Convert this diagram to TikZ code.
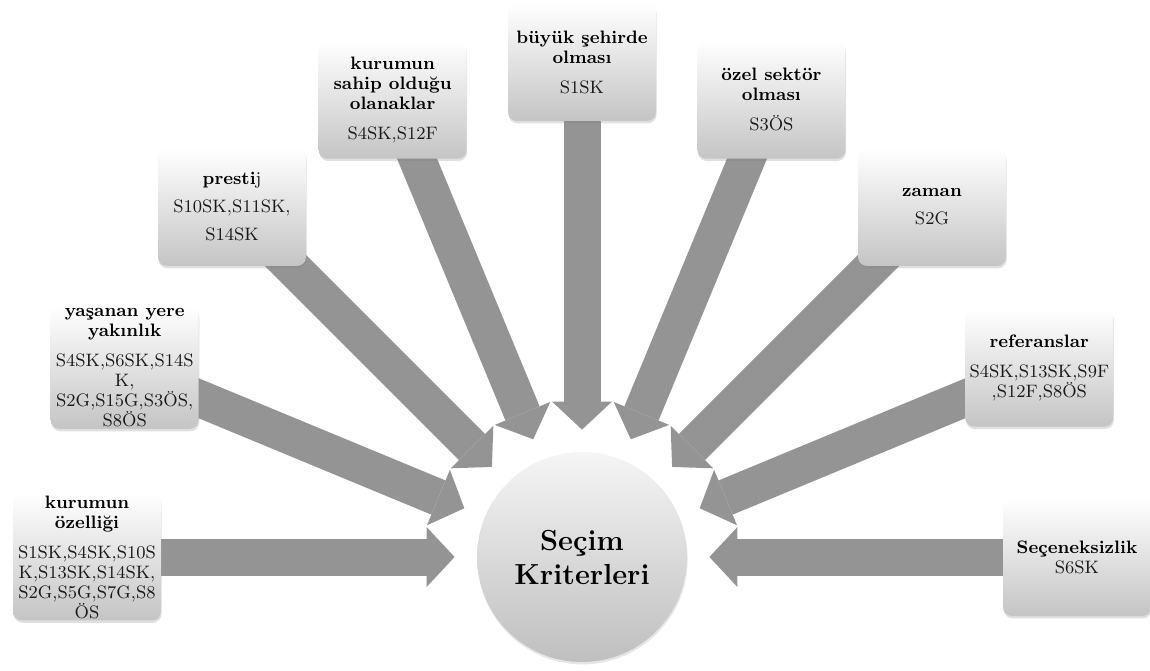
\documentclass[tikz,border=0pt]{standalone}
\usepackage{fontspec}
\usetikzlibrary{arrows.meta,shadows,backgrounds}

\newcommand{\kbaslik}[1]{\textcolor{black}{\textbf{#1}}}

\tikzset{
  crit/.style={rounded corners=4.5pt, minimum width=74pt, minimum height=59pt,
    top color=white, bottom color=black!23, align=center, inner sep=1pt,
    drop shadow={shadow xshift=0.3pt, shadow yshift=-1.2pt, opacity=.25},
    font=\fontsize{9}{10}\selectfont, text=black!90},
  airy/.style={font=\fontsize{9}{14}\selectfont},
  hub/.style={circle, minimum size=105pt, inner sep=0pt, align=center,
    top color=black!4, bottom color=black!25,
    drop shadow={shadow xshift=0.3pt, shadow yshift=-1.2pt, opacity=.2},
    font=\bfseries\fontsize{14.5}{17}\selectfont},
  flow/.style={draw=black!42, line width=18.5pt,
    -{Triangle[length=14pt,width=30pt,line width=0pt]}, shorten >=11pt},
}

\begin{document}
\begin{tikzpicture}[x=0.5pt,y=0.5pt]
  \useasboundingbox (0,0) rectangle (1150,670);

  \node [hub] (sk) at (582,113) {Seçim\\Kriterleri};

  \node [crit] (b1) at (87,113) {\kbaslik{kurumun}\\\kbaslik{özelliği}\\[5pt]S1SK,S4SK,S10S\\K,S13SK,S14SK,\\S2G,S5G,S7G,S8\\ÖS};
  \node [crit] (b2) at (124.7,302.4) {\kbaslik{yaşanan yere}\\\kbaslik{yakınlık}\\[5pt]S4SK,S6SK,S14S\\K,\\S2G,S15G,S3ÖS,\\S8ÖS};
  \node [crit,airy] (b3) at (232,463) {\kbaslik{presti}j\\S10SK,S11SK,\\S14SK};
  \node [crit] (b4) at (392.6,570.3) {\kbaslik{kurumun}\\\kbaslik{sahip olduğu}\\\kbaslik{olanaklar}\\[5pt]S4SK,S12F};
  \node [crit] (b5) at (582,608) {\kbaslik{büyük şehirde}\\\kbaslik{olması}\\[5pt]S1SK};
  \node [crit] (b6) at (771.4,570.3) {\kbaslik{özel sektör}\\\kbaslik{olması}\\[5pt]S3ÖS};
  \node [crit,airy] (b7) at (932,463) {\kbaslik{zaman}\\S2G};
  \node [crit] (b8) at (1039.3,302.4) {\kbaslik{referanslar}\\[5pt]S4SK,S13SK,S9F\\,S12F,S8ÖS};
  \node [crit] (b9) at (1077,113) {\kbaslik{Seçeneksizlik}\\S6SK};

  % arrows go behind the boxes
  \begin{scope}[on background layer]
    \draw [flow] (b1.center) -- (sk);
    \draw [flow] (b2.center) -- (sk);
    \draw [flow] (b3.center) -- (sk);
    \draw [flow] (b4.center) -- (sk);
    \draw [flow] (b5.center) -- (sk);
    \draw [flow] (b6.center) -- (sk);
    \draw [flow] (b7.center) -- (sk);
    \draw [flow] (b8.center) -- (sk);
    \draw [flow] (b9.center) -- (sk);
  \end{scope}
\end{tikzpicture}
\end{document}
